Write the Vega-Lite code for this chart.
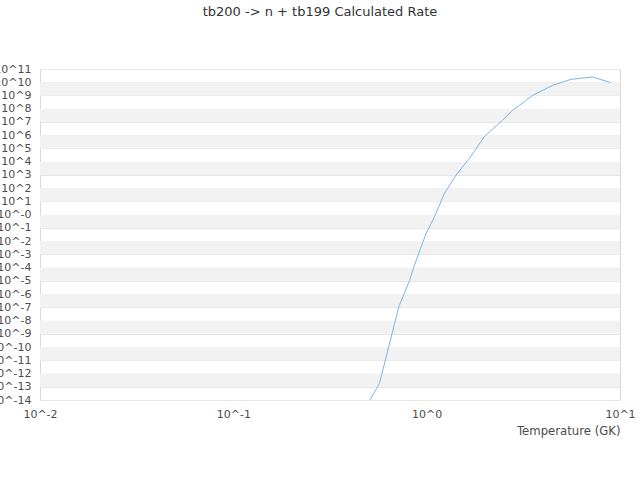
{
  "$schema": "https://vega.github.io/schema/vega-lite/v6.json",
  "width": 580,
  "height": 331,
  "autosize": {"type": "none"},
  "padding": {"left": 40, "top": 69, "right": 20, "bottom": 80},
  "title": {
    "text": "tb200 -> n + tb199 Calculated Rate",
    "font": "DejaVu Sans",
    "fontSize": 13,
    "fontWeight": "normal",
    "color": "#333333",
    "anchor": "middle",
    "frame": "group",
    "dx": -10,
    "offset": 44
  },
  "datasets": {
    "bands": [
      {"lo": 1e9, "hi": 1e10},
      {"lo": 1e7, "hi": 1e8},
      {"lo": 1e5, "hi": 1e6},
      {"lo": 1e3, "hi": 1e4},
      {"lo": 1e1, "hi": 1e2},
      {"lo": 1e-1, "hi": 1},
      {"lo": 1e-3, "hi": 1e-2},
      {"lo": 1e-5, "hi": 1e-4},
      {"lo": 1e-7, "hi": 1e-6},
      {"lo": 1e-9, "hi": 1e-8},
      {"lo": 1e-11, "hi": 1e-10},
      {"lo": 1e-13, "hi": 1e-12}
    ],
    "rate": [
      {"T": 0.5, "rate": 6.2e-15},
      {"T": 0.57, "rate": 1.82e-13},
      {"T": 0.718, "rate": 1.12e-7},
      {"T": 0.815, "rate": 1.02e-5},
      {"T": 0.865, "rate": 1.58e-4},
      {"T": 0.994, "rate": 0.0389},
      {"T": 1.097, "rate": 0.692},
      {"T": 1.236, "rate": 40.7},
      {"T": 1.42, "rate": 977},
      {"T": 1.664, "rate": 18200},
      {"T": 1.989, "rate": 776000},
      {"T": 2.473, "rate": 1.41e7},
      {"T": 2.785, "rate": 7.59e7},
      {"T": 3.532, "rate": 1.02e9},
      {"T": 4.48, "rate": 5.89e9},
      {"T": 5.58, "rate": 1.66e10},
      {"T": 7.21, "rate": 2.51e10},
      {"T": 8.98, "rate": 9.33e9}
    ]
  },
  "layer": [
    {
      "data": {"name": "bands"},
      "mark": {"type": "rect", "color": "#f2f2f2"},
      "encoding": {
        "y": {
          "field": "lo",
          "type": "quantitative",
          "scale": {"type": "log", "domain": [1e-14, 1e11], "nice": false},
          "axis": {
            "values": [1e-14, 1e-13, 1e-12, 1e-11, 1e-10, 1e-9, 1e-8, 1e-7, 1e-6, 1e-5, 1e-4, 1e-3, 1e-2, 1e-1, 1, 1e1, 1e2, 1e3, 1e4, 1e5, 1e6, 1e7, 1e8, 1e9, 1e10, 1e11],
            "labelExpr": "'10^' + (datum.value <= 1 ? '-' + round(-log(datum.value) / LN10) : round(log(datum.value) / LN10))",
            "title": null,
            "grid": true,
            "gridColor": "#e6e6e6",
            "domain": false,
            "ticks": false,
            "labelPadding": 9,
            "labelFont": "DejaVu Sans",
            "labelFontSize": 11,
            "labelColor": "#4d4d4d",
            "labelOverlap": false,
            "labelBound": false,
            "labelFlush": false
          }
        },
        "y2": {"field": "hi"}
      }
    },
    {
      "data": {"name": "rate"},
      "mark": {"type": "line", "color": "#7cb5ec", "strokeWidth": 1, "clip": true},
      "encoding": {
        "x": {
          "field": "T",
          "type": "quantitative",
          "scale": {"type": "log", "domain": [0.01, 10], "nice": false},
          "axis": {
            "values": [0.01, 0.1, 1, 10],
            "labelExpr": "'10^' + (datum.value < 1 ? '-' + round(-log(datum.value) / LN10) : round(log(datum.value) / LN10))",
            "title": "Temperature (GK)",
            "titleAnchor": "end",
            "titleFont": "DejaVu Sans",
            "titleFontSize": 11.7,
            "titleFontWeight": "normal",
            "titleColor": "#4d4d4d",
            "titlePadding": 6,
            "grid": false,
            "domain": false,
            "ticks": false,
            "labelPadding": 8,
            "labelFont": "DejaVu Sans",
            "labelFontSize": 11,
            "labelColor": "#4d4d4d",
            "labelFlush": false,
            "labelOverlap": false
          }
        },
        "y": {"field": "rate", "type": "quantitative"}
      }
    }
  ],
  "config": {
    "view": {"stroke": "#d8d8d8"},
    "background": "white"
  }
}
